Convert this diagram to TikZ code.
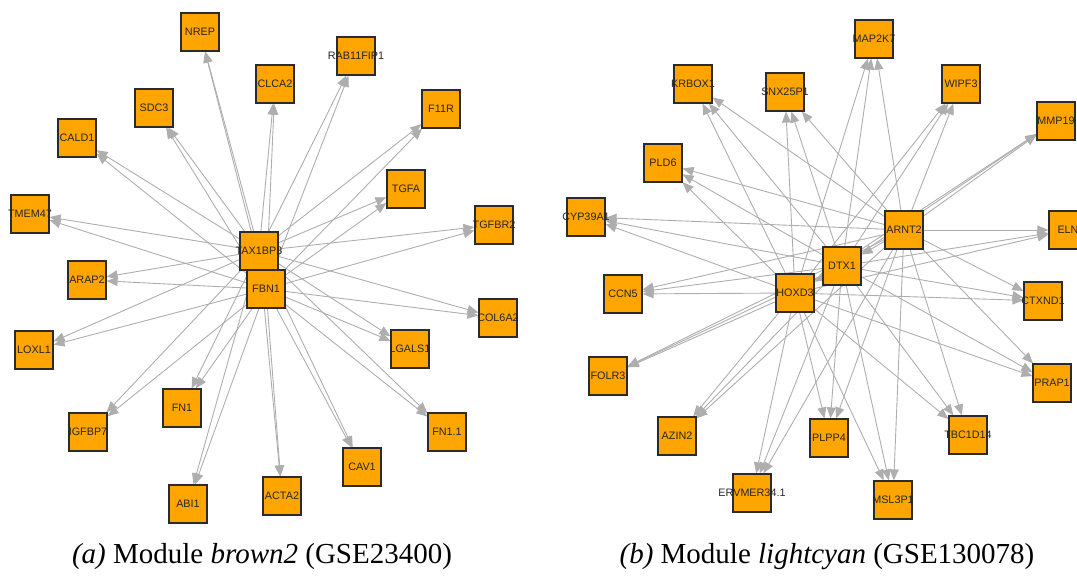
\documentclass[tikz,border=0pt]{standalone}
\usepackage{fontspec}
\setmainfont{Liberation Serif}
\newfontfamily\genefont{Liberation Sans}
\usetikzlibrary{arrows.meta,backgrounds}

\definecolor{geneorange}{HTML}{FFA500}
\definecolor{edgegray}{HTML}{AEAEAE}
\definecolor{boxline}{HTML}{2B2B2B}
\definecolor{labelink}{HTML}{262626}

% gene boxes keep a fixed size; long names spill over the box edges
\newcommand{\genelabel}[1]{\makebox[0pt][c]{#1}}

\tikzset{
  gene/.style={draw=boxline, line width=1.2pt, fill=geneorange,
    minimum width=38pt, minimum height=38pt, inner sep=0pt,
    font=\genefont\fontsize{10.8}{12}\selectfont, text=labelink},
  link/.style={draw=edgegray, line width=0.9pt,
    -{Triangle[length=11pt,width=9pt,fill=edgegray]}},
  caption/.style={font=\fontsize{29}{34}\selectfont, anchor=center}
}

\begin{document}
\begin{tikzpicture}[x=1pt,y=-1pt]
\useasboundingbox (0,0) rectangle (1077,577);

% ---- (a) module brown2 ----
\node[gene] (TAX1BP3) at (259,251) {\genelabel{TAX1BP3}};
\node[gene] (FBN1)    at (266,289) {\genelabel{FBN1}};
\foreach \id/\txt/\px/\py in {
  NREP/NREP/200/32, RAB11FIP1/RAB11FIP1/356/56, CLCA2/CLCA2/275/84,
  SDC3/SDC3/154/108, F11R/F11R/441/109, CALD1/CALD1/77/138,
  TGFA/TGFA/406/189, TMEM47/TMEM47/30/214, TGFBR2/TGFBR2/494/225,
  ARAP2/ARAP2/87/280, COL6A2/COL6A2/498/318, LOXL1/LOXL1/34/350,
  LGALS1/LGALS1/410/349, FN1/FN1/182/408, IGFBP7/IGFBP7/88/432,
  FN1x1/FN1.1/447/432, CAV1/CAV1/362/467, ABI1/ABI1/188/504,
  ACTA2/ACTA2/282/496}{
  \node[gene] (a-\id) at (\px,\py) {\genelabel{\txt}};
}
\begin{scope}[on background layer]
\foreach \id in {NREP, RAB11FIP1, CLCA2, SDC3, F11R, CALD1, TGFA,
  TMEM47, TGFBR2, ARAP2, COL6A2, LOXL1, LGALS1, FN1, IGFBP7, FN1x1,
  CAV1, ABI1, ACTA2}{
  \draw[link] (TAX1BP3) -- (a-\id);
  \draw[link] (FBN1) -- (a-\id);
}
\end{scope}

% ---- (b) module lightcyan ----
\node[gene] (ARNT2) at (904,230) {\genelabel{ARNT2}};
\node[gene] (DTX1)  at (842,266) {\genelabel{DTX1}};
\node[gene] (HOXD3) at (795,293) {\genelabel{HOXD3}};
\foreach \id/\txt/\px/\py in {
  MAP2K7/MAP2K7/874/39, KRBOX1/KRBOX1/693/84, SNX25P1/SNX25P1/785/92,
  WIPF3/WIPF3/961/84, MMP19/MMP19/1056/121, PLD6/PLD6/663/163,
  CYP39A1/CYP39A1/586/217, ELN/ELN/1068/230, CCN5/CCN5/623/294,
  CTXND1/CTXND1/1043/301, FOLR3/FOLR3/608/376, PRAP1/PRAP1/1052/383,
  AZIN2/AZIN2/677/436, PLPP4/PLPP4/829/438, TBC1D14/TBC1D14/968/435,
  ERVMER/ERVMER34.1/752/493, MSL3P1/MSL3P1/893/500}{
  \node[gene] (b-\id) at (\px,\py) {\genelabel{\txt}};
}
\begin{scope}[on background layer]
\foreach \id in {MAP2K7, KRBOX1, SNX25P1, WIPF3, MMP19, PLD6, CYP39A1,
  ELN, CCN5, CTXND1, FOLR3, PRAP1, AZIN2, PLPP4, TBC1D14, ERVMER,
  MSL3P1}{
  \draw[link] (ARNT2) -- (b-\id);
  \draw[link] (DTX1) -- (b-\id);
  \draw[link] (HOXD3) -- (b-\id);
}
\draw[link] (ARNT2) -- (DTX1);
\draw[link] (DTX1) -- (HOXD3);
\end{scope}

% ---- captions ----
\node[caption] (capa) at (262,557) {\textit{(a)} Module \textit{brown2} (GSE23400)};
\node[caption] (capb) at (827,557) {\textit{(b)} Module \textit{lightcyan} (GSE130078)};
\end{tikzpicture}
\end{document}
